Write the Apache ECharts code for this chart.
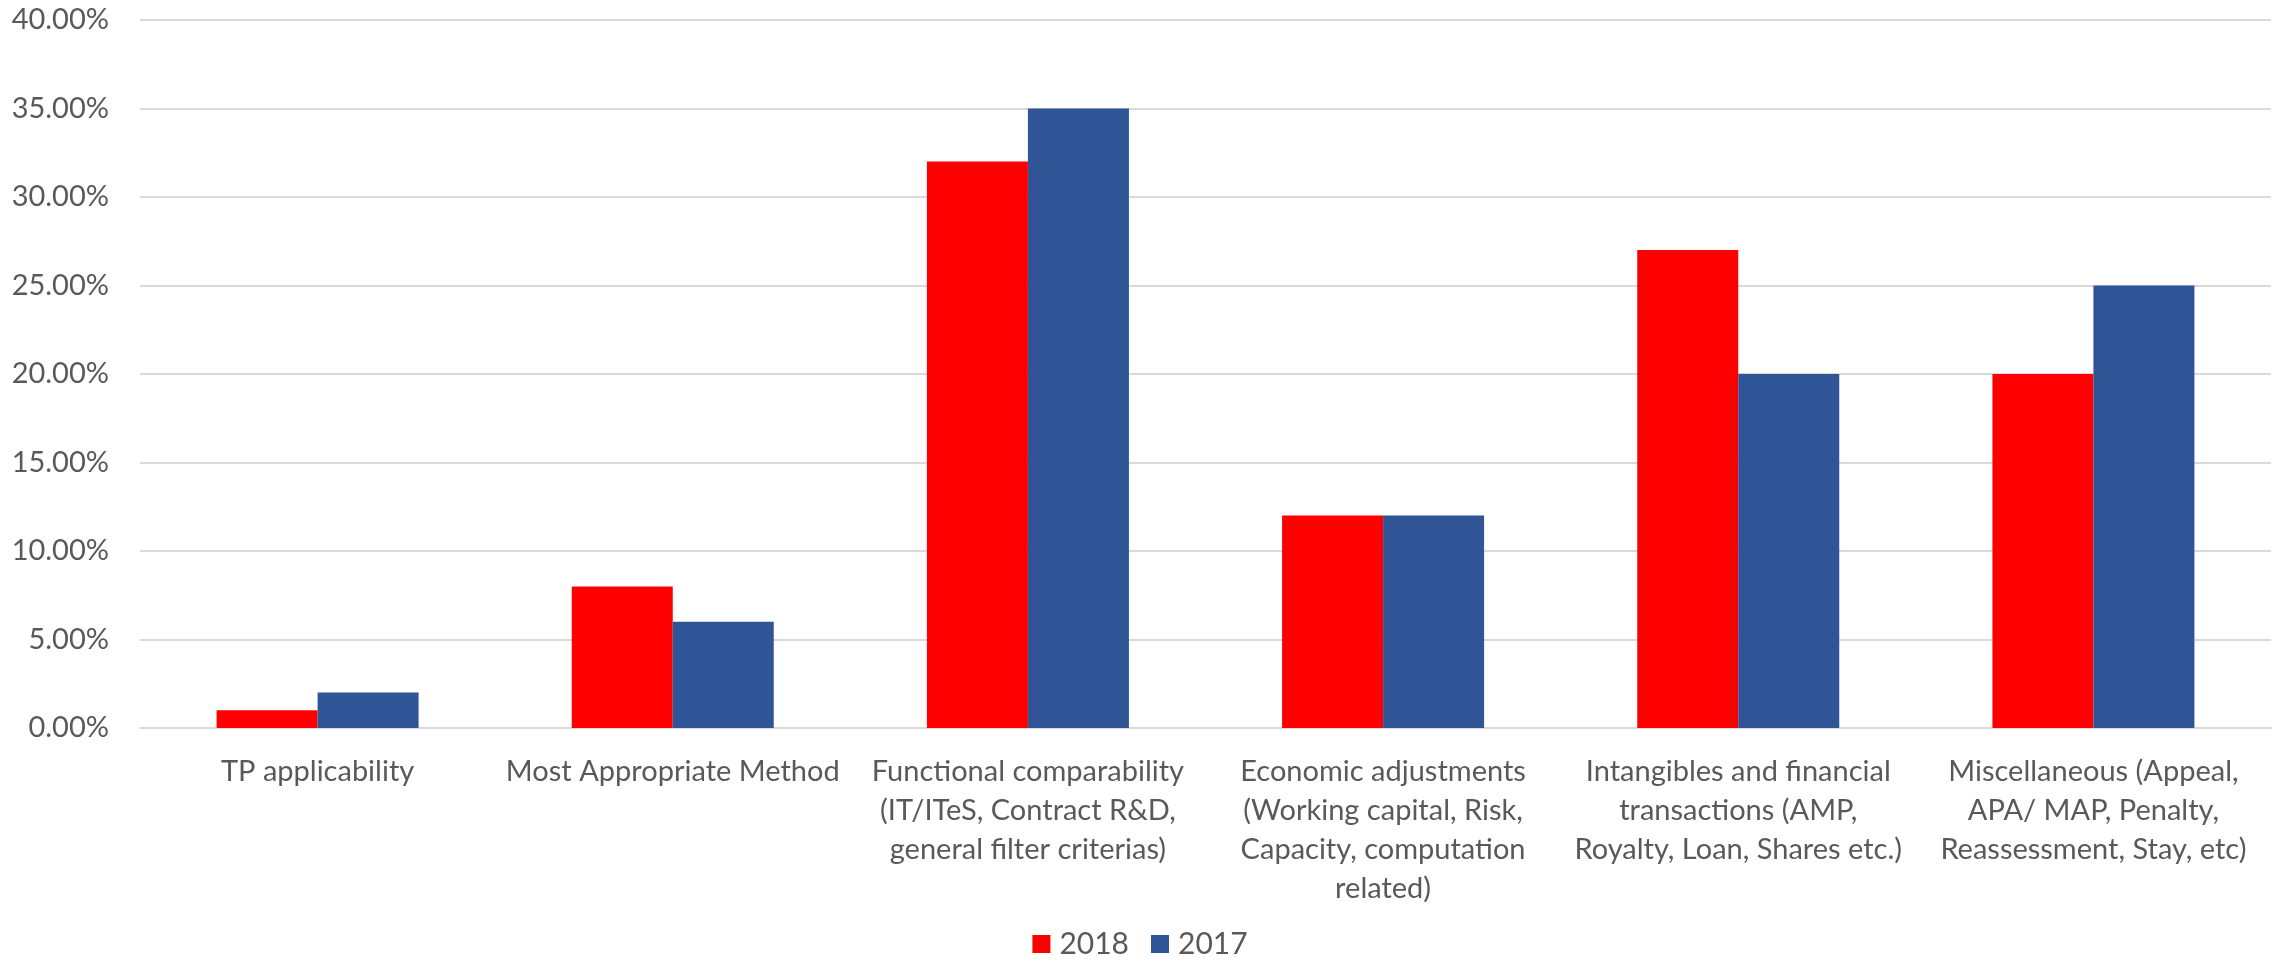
<!DOCTYPE html>
<html>
<head>
<meta charset="utf-8">
<title>TP dispute areas 2018 vs 2017</title>
<script src="https://cdn.jsdelivr.net/npm/echarts@6/dist/echarts.min.js"></script>
<style>
  html, body { margin: 0; padding: 0; background: #ffffff; }
  #chart { width: 2280px; height: 961px; }
</style>
</head>
<body>
<div id="chart"></div>
<script>
// Issue categories (line breaks follow the wrapped axis labels)
const categories = [
  'TP applicability',
  'Most Appropriate Method',
  'Functional comparability\n(IT/ITeS, Contract R&D,\ngeneral filter criterias)',
  'Economic adjustments\n(Working capital, Risk,\nCapacity, computation\nrelated)',
  'Intangibles and financial\ntransactions (AMP,\nRoyalty, Loan, Shares etc.)',
  'Miscellaneous (Appeal,\nAPA/ MAP, Penalty,\nReassessment, Stay, etc)'
];

// Share of cases per category (fractions)
const values2018 = [0.01, 0.08, 0.32, 0.12, 0.27, 0.20];
const values2017 = [0.02, 0.06, 0.35, 0.12, 0.20, 0.25];

const seriesNames = ['2018', '2017'];

// Y axis ticks
const yMin = 0;
const yMax = 0.40;
const yStep = 0.05;

const fontFamily = 'Lato, "Open Sans", "Noto Sans", sans-serif';
const textColor = '#595959';

const chart = echarts.init(document.getElementById('chart'));

chart.setOption({
  animation: false,
  backgroundColor: '#ffffff',
  textStyle: { fontFamily: fontFamily, color: textColor },
  grid: { left: 140, right: 9, top: 20, bottom: 233, containLabel: false },
  legend: {
    data: seriesNames,
    bottom: -3,
    left: 'center',
    itemWidth: 18,
    itemHeight: 18,
    itemGap: 22,
    icon: 'rect',
    textStyle: { fontSize: 30, color: textColor, fontFamily: fontFamily, padding: [0, 0, 0, 4] }
  },
  xAxis: {
    type: 'category',
    data: categories,
    axisLine: { show: true, lineStyle: { color: '#D9D9D9', width: 2 } },
    axisTick: { show: false },
    axisLabel: {
      interval: 0,
      margin: 24,
      fontSize: 29,
      lineHeight: 39,
      color: textColor,
      fontFamily: fontFamily,
      align: 'center'
    }
  },
  yAxis: {
    type: 'value',
    min: yMin,
    max: yMax,
    interval: yStep,
    axisLine: { show: false },
    axisTick: { show: false },
    splitLine: { lineStyle: { color: '#D9D9D9', width: 2 } },
    axisLabel: {
      margin: 31,
      fontSize: 29,
      color: textColor,
      fontFamily: fontFamily,
      formatter: v => (v * 100).toFixed(2) + '%'
    }
  },
  series: [
    {
      name: seriesNames[0],
      type: 'bar',
      data: values2018,
      barWidth: 101,
      barGap: '0%',
      itemStyle: { color: '#FF0000' }
    },
    {
      name: seriesNames[1],
      type: 'bar',
      data: values2017,
      barWidth: 101,
      barGap: '0%',
      itemStyle: { color: '#2F5597' }
    }
  ]
});
</script>
</body>
</html>
